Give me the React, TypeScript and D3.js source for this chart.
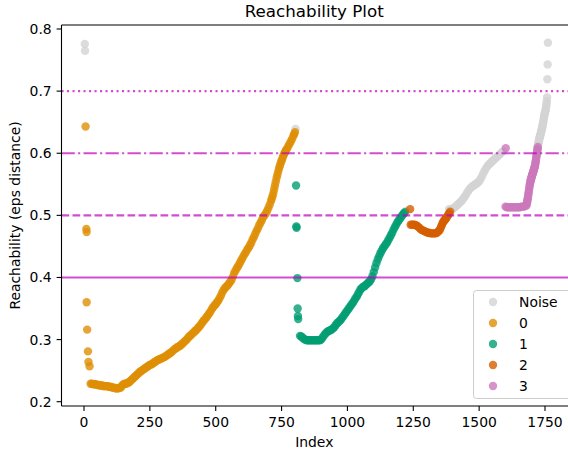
import React from "react";
import * as d3 from "d3";

// OPTICS reachability distances, [ordering index, reachability] per cluster label
const noisePoints: [number, number][] = [
  [3, 0.776], [4, 0.765], [803, 0.639], [1222, 0.507], [1386, 0.51],
  [1390, 0.508], [1395, 0.509], [1400, 0.511], [1405, 0.512], [1410, 0.514],
  [1415, 0.516], [1420, 0.518], [1425, 0.52], [1430, 0.522], [1435, 0.524],
  [1440, 0.527], [1445, 0.53], [1450, 0.533], [1455, 0.537], [1460, 0.54],
  [1465, 0.543], [1470, 0.545], [1475, 0.547], [1480, 0.548], [1485, 0.55],
  [1490, 0.551], [1495, 0.553], [1500, 0.555], [1505, 0.558], [1510, 0.562],
  [1515, 0.567], [1520, 0.571], [1525, 0.575], [1530, 0.578], [1535, 0.581],
  [1540, 0.583], [1545, 0.585], [1550, 0.587], [1555, 0.589], [1560, 0.591],
  [1565, 0.593], [1570, 0.595], [1575, 0.597], [1580, 0.599], [1585, 0.601],
  [1590, 0.603],
  [1718, 0.598], [1720, 0.606], [1721, 0.608], [1722, 0.61], [1723, 0.612],
  [1724, 0.614], [1725, 0.616], [1726, 0.618], [1727, 0.62], [1728, 0.622],
  [1729, 0.624], [1730, 0.626], [1731, 0.627], [1732, 0.629], [1733, 0.63],
  [1734, 0.632], [1735, 0.634], [1736, 0.635], [1737, 0.637], [1738, 0.639],
  [1739, 0.641], [1740, 0.643], [1741, 0.645], [1742, 0.647], [1743, 0.649],
  [1744, 0.652], [1745, 0.655], [1746, 0.658], [1747, 0.66], [1748, 0.662],
  [1749, 0.664], [1750, 0.665], [1751, 0.667], [1752, 0.669], [1753, 0.671],
  [1754, 0.674], [1755, 0.677], [1756, 0.68], [1757, 0.684], [1758, 0.69],
  [1759, 0.719], [1760, 0.743], [1761, 0.778],
];

const cluster0Points: [number, number][] = [
  [6, 0.643], [9, 0.478], [10, 0.473], [10, 0.36], [12, 0.316], [15, 0.281],
  [17, 0.264], [21, 0.257],
  [25, 0.229], [30, 0.229], [35, 0.228], [40, 0.228], [45, 0.228], [50, 0.227],
  [55, 0.227], [60, 0.226], [65, 0.226], [70, 0.226], [75, 0.225], [80, 0.225],
  [85, 0.225], [90, 0.225], [95, 0.224], [100, 0.224], [105, 0.223], [110, 0.223],
  [115, 0.222], [120, 0.222], [125, 0.221], [130, 0.222], [135, 0.222], [140, 0.223],
  [145, 0.226], [150, 0.228], [155, 0.229], [160, 0.229], [165, 0.23], [170, 0.231],
  [175, 0.233], [180, 0.235], [185, 0.237], [190, 0.239], [195, 0.241], [200, 0.243],
  [205, 0.245], [210, 0.247], [215, 0.249], [220, 0.25], [225, 0.252], [230, 0.253],
  [235, 0.255], [240, 0.256], [245, 0.258], [250, 0.259], [255, 0.26], [260, 0.261],
  [265, 0.263], [270, 0.264], [275, 0.266], [280, 0.267], [285, 0.268], [290, 0.269],
  [295, 0.27], [300, 0.271], [305, 0.272], [310, 0.273], [315, 0.275], [320, 0.276],
  [325, 0.278], [330, 0.279], [335, 0.281], [340, 0.283], [345, 0.285], [350, 0.286],
  [355, 0.288], [360, 0.289], [365, 0.29], [370, 0.292], [375, 0.294], [380, 0.296],
  [385, 0.298], [390, 0.3], [395, 0.303], [400, 0.305], [405, 0.307], [410, 0.309],
  [415, 0.311], [420, 0.313], [425, 0.315], [430, 0.317], [435, 0.32], [440, 0.322],
  [445, 0.325], [450, 0.328], [455, 0.331], [460, 0.333], [465, 0.336], [470, 0.339],
  [475, 0.342], [480, 0.345], [485, 0.349], [490, 0.352], [495, 0.355], [500, 0.357],
  [505, 0.36], [510, 0.363], [515, 0.367], [520, 0.371], [525, 0.376], [530, 0.38],
  [535, 0.383], [540, 0.385], [545, 0.387], [550, 0.39], [555, 0.393], [560, 0.396],
  [565, 0.401], [570, 0.407], [575, 0.411], [580, 0.415], [585, 0.418], [590, 0.422],
  [595, 0.426], [600, 0.43], [605, 0.434], [610, 0.438], [615, 0.441], [620, 0.445],
  [625, 0.448], [630, 0.452], [635, 0.456], [640, 0.461], [645, 0.465], [650, 0.47],
  [655, 0.475], [660, 0.479], [665, 0.484], [670, 0.488], [675, 0.492], [680, 0.497],
  [685, 0.5], [690, 0.503], [695, 0.507], [700, 0.512], [705, 0.517], [710, 0.523],
  [713, 0.527], [716, 0.531], [719, 0.536], [722, 0.542], [725, 0.548], [728, 0.554],
  [731, 0.56], [734, 0.565], [737, 0.57], [740, 0.575], [743, 0.579], [746, 0.583],
  [749, 0.587], [752, 0.59], [755, 0.594], [758, 0.597], [761, 0.6], [764, 0.602],
  [767, 0.605], [770, 0.607], [775, 0.611], [780, 0.615], [785, 0.619], [790, 0.623],
  [795, 0.628], [798, 0.631], [801, 0.634],
];

const cluster1Points: [number, number][] = [
  [805, 0.548], [806, 0.482], [807, 0.48], [810, 0.399], [811, 0.35],
  [812, 0.338], [813, 0.333],
  [820, 0.306], [825, 0.305], [830, 0.303], [835, 0.301], [840, 0.3], [845, 0.299],
  [850, 0.299], [855, 0.299], [860, 0.299], [865, 0.299], [870, 0.299], [875, 0.299],
  [880, 0.299], [885, 0.299], [890, 0.299], [895, 0.299], [900, 0.3], [905, 0.303],
  [910, 0.306], [915, 0.309], [920, 0.311], [925, 0.313], [930, 0.314], [935, 0.315],
  [940, 0.316], [945, 0.318], [950, 0.32], [955, 0.323], [960, 0.326], [965, 0.328],
  [970, 0.33], [975, 0.332], [980, 0.335], [985, 0.338], [990, 0.341], [995, 0.344],
  [1000, 0.347], [1005, 0.35], [1010, 0.353], [1015, 0.356], [1020, 0.359], [1025, 0.362],
  [1030, 0.366], [1035, 0.369], [1040, 0.373], [1045, 0.377], [1050, 0.381], [1055, 0.383],
  [1060, 0.385], [1065, 0.386], [1070, 0.388], [1075, 0.39], [1080, 0.392], [1085, 0.394],
  [1090, 0.397], [1095, 0.402], [1100, 0.409], [1105, 0.416], [1110, 0.423], [1115, 0.429],
  [1120, 0.434], [1125, 0.439], [1130, 0.443], [1135, 0.447], [1140, 0.45], [1145, 0.453],
  [1150, 0.456], [1155, 0.46], [1160, 0.464], [1165, 0.468], [1170, 0.472], [1175, 0.477],
  [1180, 0.481], [1185, 0.485], [1190, 0.489], [1195, 0.492], [1200, 0.495], [1205, 0.498],
  [1210, 0.501], [1214, 0.503], [1218, 0.505],
];

const cluster2Points: [number, number][] = [
  [1238, 0.51],
  [1240, 0.485], [1245, 0.485], [1250, 0.485], [1255, 0.485], [1260, 0.484],
  [1265, 0.483], [1270, 0.481], [1275, 0.479], [1280, 0.477], [1285, 0.476],
  [1290, 0.475], [1295, 0.474], [1300, 0.473], [1305, 0.472], [1310, 0.472],
  [1315, 0.471], [1320, 0.471], [1325, 0.471], [1330, 0.471], [1335, 0.471],
  [1340, 0.472], [1345, 0.474], [1350, 0.476], [1353, 0.479], [1356, 0.482],
  [1359, 0.485], [1362, 0.488], [1365, 0.49], [1368, 0.492], [1371, 0.493],
  [1374, 0.495], [1377, 0.497], [1380, 0.499], [1383, 0.501], [1386, 0.503],
  [1390, 0.506],
];

const cluster3Points: [number, number][] = [
  [1601, 0.608],
  [1600, 0.514], [1605, 0.513], [1610, 0.513], [1615, 0.513], [1620, 0.513],
  [1625, 0.513], [1630, 0.513], [1635, 0.513], [1640, 0.513], [1645, 0.513],
  [1650, 0.513], [1655, 0.513], [1660, 0.514], [1665, 0.514], [1670, 0.514],
  [1675, 0.515], [1680, 0.516], [1681, 0.519], [1682, 0.521], [1683, 0.523],
  [1684, 0.526], [1685, 0.528], [1686, 0.531], [1687, 0.534], [1688, 0.537],
  [1689, 0.54], [1690, 0.543], [1691, 0.546], [1692, 0.549], [1693, 0.551],
  [1694, 0.553], [1695, 0.555], [1696, 0.557], [1697, 0.558], [1698, 0.56],
  [1699, 0.561], [1700, 0.563], [1701, 0.564], [1702, 0.566], [1703, 0.567],
  [1704, 0.568], [1705, 0.569], [1706, 0.571], [1707, 0.572], [1708, 0.574],
  [1709, 0.575], [1710, 0.577], [1711, 0.578], [1712, 0.58], [1713, 0.582],
  [1714, 0.585], [1715, 0.587], [1716, 0.59], [1717, 0.593], [1718, 0.596],
  [1719, 0.599], [1720, 0.602], [1721, 0.604], [1722, 0.607], [1723, 0.61],
];

const seriesLabels = ["Noise", "0", "1", "2", "3"];
const seriesColors = ["#d3d3d3", "#de8f05", "#029e73", "#d55e00", "#cc78bc"];
const seriesData = [noisePoints, cluster0Points, cluster1Points, cluster2Points, cluster3Points];

const xTicks = [0, 250, 500, 750, 1000, 1250, 1500, 1750];
const yTicks = [0.2, 0.3, 0.4, 0.5, 0.6, 0.7, 0.8];

// eps thresholds and their line styles
const epsLevels = [0.4, 0.5, 0.6, 0.7];
const epsDashes = ["", "7.7,3.3", "13.3,3.3,2.1,3.3", "2.1,3.4"];

const W = 568;
const H = 453;
const plot = { left: 61.5, right: 574, top: 25, bottom: 406 };
const FONT = "DejaVu Sans, sans-serif";

export default function App() {
  const x = d3.scaleLinear().domain([0, 1750]).range([84, 545]);
  const y = d3.scaleLinear().domain([0.2, 0.8]).range([401.7, 29]);
  const cxVisible = (plot.left + 567) / 2;

  return (
    <svg
      width={W}
      height={H}
      style={{ position: "absolute", left: 0, top: 0, background: "#fff" }}
      fontFamily={FONT}
    >
      <defs>
        <clipPath id="plotArea">
          <rect x={plot.left} y={plot.top} width={plot.right - plot.left} height={plot.bottom - plot.top} />
        </clipPath>
      </defs>

      <g clipPath="url(#plotArea)">
        {seriesData.map((pts, si) => (
          <g key={si} fill={seriesColors[si]} fillOpacity={0.8}>
            {pts.map((p, i) => (
              <circle key={i} cx={x(p[0])} cy={y(p[1])} r={4.2} />
            ))}
          </g>
        ))}
        {epsLevels.map((v, i) => (
          <line
            key={v}
            x1={plot.left}
            x2={plot.right}
            y1={y(v)}
            y2={y(v)}
            stroke="#bf00bf"
            strokeOpacity={0.7}
            strokeWidth={2.08}
            strokeDasharray={epsDashes[i] || undefined}
          />
        ))}
      </g>

      {/* spines */}
      <g stroke="#000" strokeWidth={1.1} fill="none">
        <line x1={plot.left} x2={plot.right} y1={plot.top} y2={plot.top} />
        <line x1={plot.left} x2={plot.right} y1={plot.bottom} y2={plot.bottom} />
        <line x1={plot.left} x2={plot.left} y1={plot.top} y2={plot.bottom} />
        <line x1={plot.right} x2={plot.right} y1={plot.top} y2={plot.bottom} />
      </g>

      {/* y axis */}
      <g fontSize={13.9} fill="#000">
        {yTicks.map((t) => (
          <g key={t}>
            <line x1={plot.left - 4.9} x2={plot.left} y1={y(t)} y2={y(t)} stroke="#000" strokeWidth={1.1} />
            <text x={plot.left - 9.8} y={y(t)} textAnchor="end" dominantBaseline="central">
              {t.toFixed(1)}
            </text>
          </g>
        ))}
      </g>

      {/* x axis */}
      <g fontSize={13.9} fill="#000">
        {xTicks.map((t) => (
          <g key={t}>
            <line x1={x(t)} x2={x(t)} y1={plot.bottom} y2={plot.bottom + 4.9} stroke="#000" strokeWidth={1.1} />
            <text x={x(t)} y={427} textAnchor="middle">
              {t}
            </text>
          </g>
        ))}
      </g>

      <text x={cxVisible} y={447} textAnchor="middle" fontSize={13.9}>
        Index
      </text>
      <text
        transform={`translate(20,${(plot.top + plot.bottom) / 2}) rotate(-90)`}
        textAnchor="middle"
        fontSize={13.9}
      >
        Reachability (eps distance)
      </text>
      <text x={cxVisible} y={17} textAnchor="middle" fontSize={16.7}>
        Reachability Plot
      </text>

      {/* legend */}
      <g>
        <rect x={473.5} y={290.5} width={100} height={108} rx={3} fill="#fff" fillOpacity={0.8} stroke="#cccccc" strokeWidth={1} />
        {seriesLabels.map((lab, i) => (
          <g key={lab}>
            <circle cx={493} cy={302 + i * 21} r={4.2} fill={seriesColors[i]} fillOpacity={0.8} />
            <text x={519} y={302 + i * 21} dominantBaseline="central" fontSize={13.9}>
              {lab}
            </text>
          </g>
        ))}
      </g>
    </svg>
  );
}
